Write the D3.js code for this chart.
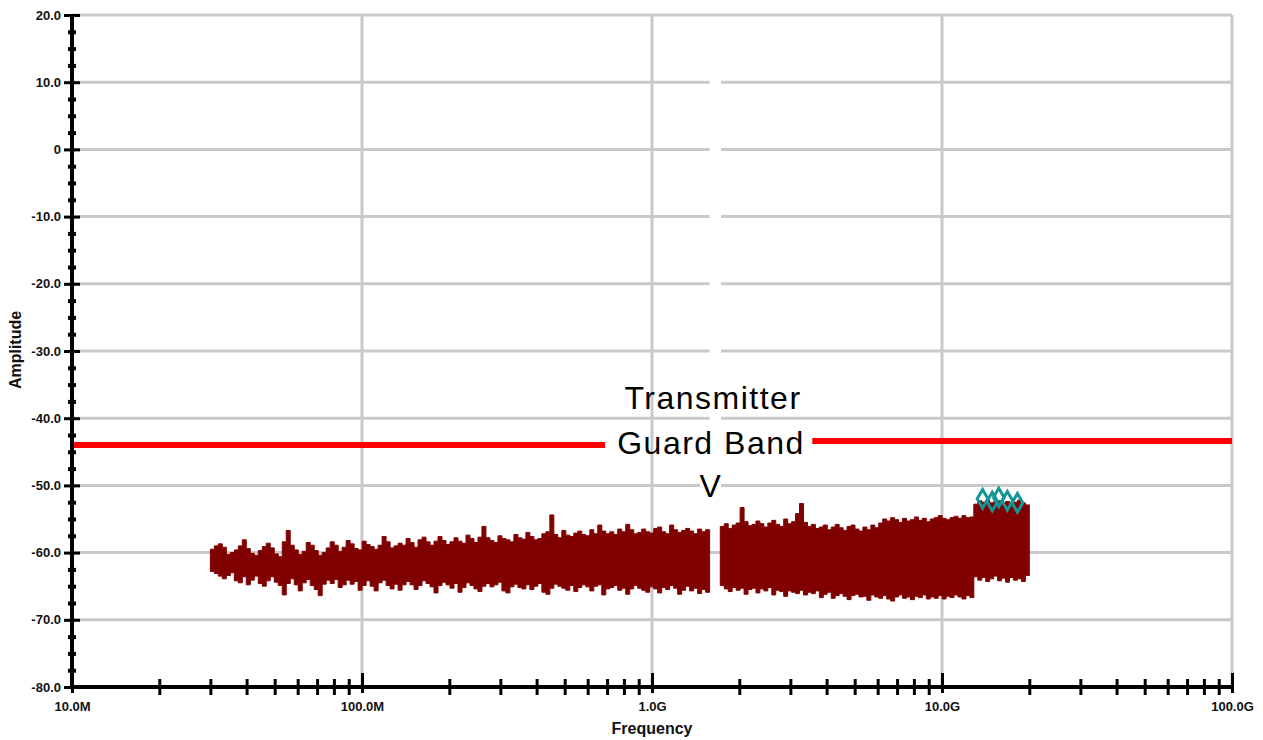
<!DOCTYPE html>
<html>
<head>
<meta charset="utf-8">
<script src="https://cdn.jsdelivr.net/npm/d3@7"></script>
<style>
  html, body { margin: 0; padding: 0; background: #ffffff; }
  svg { display: block; }
</style>
</head>
<body>
<svg id="chart" width="1263" height="740"></svg>
<script>
// ---- axis ticks ----
const yMajor = [20, 10, 0, -10, -20, -30, -40, -50, -60, -70, -80];
const yMajorLabels = ["20.0", "10.0", "0", "-10.0", "-20.0", "-30.0", "-40.0", "-50.0", "-60.0", "-70.0", "-80.0"];
const yMinorStep = 2.5;
const xMajor = [1e7, 1e8, 1e9, 1e10, 1e11];
const xMajorLabels = ["10.0M", "100.0M", "1.0G", "10.0G", "100.0G"];
const xMinorMultipliers = [2, 3, 4, 5, 6, 7, 8, 9];

// ---- measured spectrum, swept in two bands (log-spaced points) ----
// band A: 30 MHz .. 1.58 GHz
const bandAStart = 3.0e7, bandAEnd = 1.58e9;
const bandAHigh = [
  -59.5, -59.0, -58.7, -59.2, -60.3, -60.0, -59.6, -59.0, -58.1, -59.4,
  -60.1, -60.4, -59.7, -59.1, -58.6, -59.3, -60.2, -60.6, -58.4, -56.7,
  -58.9, -59.6, -60.3, -59.8, -58.5, -58.9, -59.7, -60.4, -60.0, -59.3,
  -58.4, -58.9, -59.8, -59.2, -58.2, -58.7, -59.4, -59.6, -58.3, -58.8,
  -59.1, -59.5, -58.9, -57.6, -58.4, -59.3, -59.0, -58.6, -58.9, -57.9,
  -58.5, -59.2, -58.1, -57.7, -58.4, -58.9, -58.3, -57.6, -58.2, -58.8,
  -58.4, -57.8, -58.3, -58.6, -57.4, -57.9, -58.5, -57.7, -56.1, -57.8,
  -58.2, -58.5, -57.5, -57.9, -58.1, -58.4, -57.3, -57.8, -58.0, -57.0,
  -57.6, -58.1, -57.9, -57.2, -56.9, -54.4, -57.3, -57.8, -56.7, -57.4,
  -57.6, -57.1, -56.8, -57.3, -57.5, -56.6, -57.2, -55.9, -56.8, -57.2,
  -56.9, -57.3, -56.5, -56.9, -55.8, -56.6, -57.2, -57.0, -56.5, -56.9,
  -57.1, -56.4, -56.2, -56.9, -57.2, -55.9, -56.6, -57.0, -56.7, -56.4,
  -56.8, -57.2, -56.5, -56.9, -56.6
];
const bandALow = [
  -62.8, -63.1, -63.5, -63.9, -63.4, -63.0, -64.2, -64.5, -63.6, -64.8,
  -64.1, -63.5, -64.6, -65.0, -64.2, -63.6, -64.4, -64.9, -66.3, -64.6,
  -63.9, -64.8, -65.7, -64.5, -64.0, -64.9, -65.5, -66.4, -64.7, -64.1,
  -64.6, -64.0, -65.2, -64.8, -64.1, -64.7, -64.3, -65.6, -64.9, -64.2,
  -65.0, -65.7, -64.5, -64.1, -64.9, -65.4, -64.7, -65.6, -64.8, -64.3,
  -64.8, -65.5, -64.9, -64.2, -64.6, -65.1, -66.0, -64.9, -64.4, -64.8,
  -65.3, -64.6, -65.9, -65.2, -64.5, -64.9, -65.4, -65.8, -65.0, -64.6,
  -65.1, -64.8, -64.4, -65.7, -66.0, -65.1, -64.7, -65.2, -65.4, -64.8,
  -65.5, -65.0, -64.6, -65.9, -66.2, -65.3, -64.7, -65.0, -65.3, -65.6,
  -64.9, -65.8, -65.2, -64.8, -65.1, -65.7, -65.0, -64.8, -66.3, -65.4,
  -65.2, -64.9, -65.6, -65.3, -66.2, -65.4, -64.9, -65.3, -65.6, -65.9,
  -65.1, -65.4, -66.0, -65.2, -65.5, -64.9, -65.3, -66.2, -65.6, -65.0,
  -65.7, -65.3, -66.1, -65.5, -65.9
];
// band B: 1.72 GHz .. 20 GHz
const bandBStart = 1.72e9, bandBEnd = 2.0e10;
const bandBHigh = [
  -56.1, -55.7, -56.4, -55.9, -55.6, -53.3, -55.4, -56.0, -55.8, -55.3,
  -55.7, -56.2, -55.6, -55.2, -55.8, -56.1, -55.0, -55.7, -55.4, -54.2,
  -52.7, -55.5, -56.1, -55.8, -56.4, -56.2, -55.9, -56.6, -56.2, -55.8,
  -56.3, -56.7, -56.1, -55.9, -56.5, -56.8, -56.2, -56.6, -55.9, -56.3,
  -55.6, -55.0, -55.3, -54.8, -55.1, -55.5, -54.9, -55.3, -55.1, -54.7,
  -55.2, -54.9, -55.4, -55.0, -54.8, -54.5, -54.9, -55.1, -54.8, -54.6,
  -54.9, -54.5, -54.8, -54.7, -52.8, -52.3, -52.5, -52.2, -52.6, -52.4,
  -52.3, -52.6, -52.4, -52.7, -52.5, -52.2, -52.6, -52.9
];
const bandBLow = [
  -64.9, -65.4, -65.8, -65.2, -65.6, -65.3, -66.2, -65.5, -65.3, -66.0,
  -65.4, -65.7, -65.2, -66.3, -65.6, -65.8, -66.5, -65.7, -65.9, -66.1,
  -65.6, -66.3, -65.9, -66.1, -65.7, -66.7, -66.2, -65.9, -66.8, -66.4,
  -66.1, -66.5, -67.0, -66.4, -66.2, -66.6, -66.5, -67.1, -66.3, -66.6,
  -66.8, -66.4, -66.9, -67.2, -66.6, -66.3, -66.8, -66.6, -67.0, -66.5,
  -66.7, -66.3, -66.9, -66.6, -66.8, -66.4, -66.9, -66.5, -66.7, -66.3,
  -66.6, -66.9, -66.4, -66.7, -63.6, -64.1, -63.7, -64.3, -63.9, -63.5,
  -64.2, -63.8, -64.4, -63.7, -64.1, -63.9, -64.3, -63.4
];

// peak markers (second trace)
const markerFreq = [1.38e10, 1.49e10, 1.57e10, 1.68e10, 1.82e10];
const markerAmp = [-52.0, -52.4, -51.8, -52.3, -52.6];

// guard band limit, split around its label
const limitFreq = [[1e7, 6.89e8], [3.57e9, 1e11]];
const limitAmp = [[-44.0, -44.0], [-43.4, -43.4]];
// blank column in the grid around the guard band
const notchFreq = [1.58e9, 1.73e9];
const notchAmp = [12, -41.5];

const annotationLines = ["Transmitter", "Guard Band", "V"];

// ---- layout ----
const svg = d3.select("#chart");
const x = d3.scaleLog().domain([1e7, 1e11]).range([72, 1232]);
const y = d3.scaleLinear().domain([-80, 20]).range([687, 15]);
const gridColor = "#c9c9c9";
const fontFamily = "'Liberation Sans', Arial, sans-serif";

const yMinor = d3.range(20, -80, -yMinorStep).filter(v => !yMajor.includes(v));
const xMinor = [];
xMajor.slice(0, -1).forEach(d => xMinorMultipliers.forEach(m => xMinor.push(d * m)));

// horizontal grid
svg.append("g").selectAll("line").data(yMajor.filter(v => v > -80)).join("line")
  .attr("x1", x(1e7)).attr("x2", x(1e11))
  .attr("y1", d => y(d)).attr("y2", d => y(d))
  .attr("stroke", gridColor).attr("stroke-width", 3);

// blank column through the grid
svg.append("rect")
  .attr("x", x(notchFreq[0])).attr("width", x(notchFreq[1]) - x(notchFreq[0]))
  .attr("y", y(notchAmp[0])).attr("height", y(notchAmp[1]) - y(notchAmp[0]))
  .attr("fill", "#ffffff");
// keep the -50 gridline clear behind the caret
svg.append("rect")
  .attr("x", 700).attr("y", y(-49)).attr("width", 21).attr("height", y(-51) - y(-49))
  .attr("fill", "#ffffff");

// vertical grid
svg.append("g").selectAll("line").data(xMajor.slice(1)).join("line")
  .attr("x1", d => x(d)).attr("x2", d => x(d))
  .attr("y1", y(20)).attr("y2", y(-80))
  .attr("stroke", gridColor).attr("stroke-width", 3);

// guard band limit line
const limitLine = d3.line().x(d => x(d[0])).y(d => y(d[1]));
svg.append("g").selectAll("path").data(limitFreq.map((f, i) => f.map((v, j) => [v, limitAmp[i][j]])))
  .join("path")
  .attr("d", limitLine)
  .attr("stroke", "#ff0000").attr("stroke-width", 6).attr("fill", "none");

// spectrum trace
function sweep(f0, f1, hi, lo) {
  const n = hi.length;
  const pts = hi.map((h, i) => ({ f: f0 * Math.pow(f1 / f0, i / n), hi: h, lo: lo[i] }));
  pts.push({ f: f1, hi: hi[n - 1], lo: lo[n - 1] });
  return pts;
}
const band = d3.area()
  .x(d => x(d.f)).y0(d => y(d.lo)).y1(d => y(d.hi))
  .curve(d3.curveStepAfter);
const trace = svg.append("g");
[sweep(bandAStart, bandAEnd, bandAHigh, bandALow), sweep(bandBStart, bandBEnd, bandBHigh, bandBLow)]
  .forEach(pts => {
    trace.append("path").attr("d", band(pts))
      .attr("fill", "#800000").attr("stroke", "#800000").attr("stroke-width", 1);
  });

// peak markers
const markers = markerFreq.map((f, i) => [f, markerAmp[i]]);
svg.append("g").selectAll("path").data(markers).join("path")
  .attr("transform", d => `translate(${x(d[0])},${y(d[1])})`)
  .attr("d", d3.symbol(d3.symbolDiamond, 100))
  .attr("fill", "none").attr("stroke", "#149696").attr("stroke-width", 3);

// annotation
const ann = svg.append("g")
  .attr("font-family", fontFamily)
  .attr("font-size", 32).attr("letter-spacing", 1.5)
  .attr("text-anchor", "middle").attr("fill", "#000");
const annX = [713, 711, 711];
const annY = [409, 454, 497];
annotationLines.forEach((t, i) => {
  ann.append("text").attr("x", annX[i]).attr("y", annY[i]).text(t);
});

// y axis
const yAxis = svg.append("g").attr("transform", `translate(${x(1e7)},0)`);
yAxis.call(d3.axisLeft(y).tickValues(yMajor).tickSize(8).tickPadding(3)
  .tickFormat((d, i) => yMajorLabels[i]));
yAxis.select(".domain").remove();
yAxis.selectAll(".tick line").attr("x1", 8).attr("x2", -8).attr("stroke", "#000").attr("stroke-width", 3);
yAxis.selectAll(".tick text")
  .attr("font-family", fontFamily).attr("font-weight", "bold").attr("font-size", 13).attr("fill", "#111");
const yMin = svg.append("g").attr("transform", `translate(${x(1e7)},0)`);
yMin.call(d3.axisLeft(y).tickValues(yMinor).tickSize(4).tickFormat(""));
yMin.select(".domain").remove();
yMin.selectAll(".tick line").attr("x1", 4).attr("x2", -4).attr("stroke", "#000").attr("stroke-width", 4);
svg.append("line").attr("x1", x(1e7)).attr("x2", x(1e7)).attr("y1", y(20)).attr("y2", y(-80) + 2)
  .attr("stroke", "#000").attr("stroke-width", 4);

// x axis
const xAxis = svg.append("g").attr("transform", `translate(0,${y(-80)})`);
xAxis.call(d3.axisBottom(x).tickValues(xMajor).tickSize(6)
  .tickFormat((d, i) => xMajorLabels[i]));
xAxis.select(".domain").remove();
xAxis.selectAll(".tick line").attr("y1", -14).attr("y2", 6).attr("stroke", "#000").attr("stroke-width", 3);
xAxis.selectAll(".tick text").attr("y", 19).attr("dy", "0.35em")
  .attr("font-family", fontFamily).attr("font-weight", "bold").attr("font-size", 13).attr("fill", "#111");
const xMin = svg.append("g").attr("transform", `translate(0,${y(-80)})`);
xMin.call(d3.axisBottom(x).tickValues(xMinor).tickSize(8).tickFormat(""));
xMin.select(".domain").remove();
xMin.selectAll(".tick line").attr("y1", -8).attr("y2", 8).attr("stroke", "#000").attr("stroke-width", 3);
svg.append("line").attr("x1", x(1e7) - 2).attr("x2", x(1e11) + 1).attr("y1", y(-80)).attr("y2", y(-80))
  .attr("stroke", "#000").attr("stroke-width", 4);

// axis titles
svg.append("text").attr("x", 652).attr("y", 734).attr("text-anchor", "middle")
  .attr("font-family", fontFamily).attr("font-weight", "bold")
  .attr("font-size", 16).attr("fill", "#111").text("Frequency");
svg.append("text").attr("transform", "translate(21,350) rotate(-90)").attr("text-anchor", "middle")
  .attr("font-family", fontFamily).attr("font-weight", "bold")
  .attr("font-size", 16).attr("fill", "#111").text("Amplitude");
</script>
</body>
</html>
